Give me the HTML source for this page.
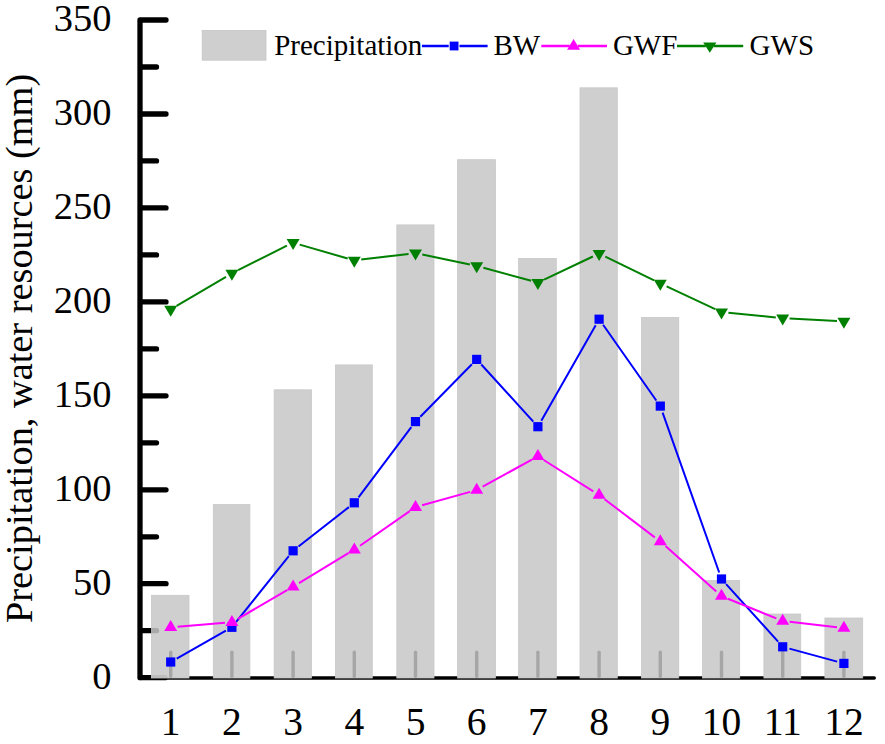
<!DOCTYPE html>
<html><head><meta charset="utf-8"><title>chart</title>
<style>html,body{margin:0;padding:0;background:#fff;}svg{display:block;}text{font-family:"Liberation Serif",serif;fill:#000;}</style></head><body>
<svg width="885" height="744" viewBox="0 0 885 744">
<rect width="885" height="744" fill="#fff"/>
<g stroke="#000" stroke-linecap="round" fill="none">
<line x1="140" y1="20" x2="140" y2="677.7" stroke-width="5.3"/>
<line x1="140" y1="678" x2="874.2" y2="678" stroke-width="3.6"/>
<line x1="142" y1="677.7" x2="165" y2="677.7" stroke-width="5.3"/>
<line x1="142" y1="630.7" x2="156.5" y2="630.7" stroke-width="5.3"/>
<line x1="142" y1="583.7" x2="166" y2="583.7" stroke-width="5.3"/>
<line x1="142" y1="536.8" x2="156.5" y2="536.8" stroke-width="5.3"/>
<line x1="142" y1="489.8" x2="166" y2="489.8" stroke-width="5.3"/>
<line x1="142" y1="442.8" x2="156.5" y2="442.8" stroke-width="5.3"/>
<line x1="142" y1="395.8" x2="166" y2="395.8" stroke-width="5.3"/>
<line x1="142" y1="348.9" x2="156.5" y2="348.9" stroke-width="5.3"/>
<line x1="142" y1="301.9" x2="166" y2="301.9" stroke-width="5.3"/>
<line x1="142" y1="254.9" x2="156.5" y2="254.9" stroke-width="5.3"/>
<line x1="142" y1="207.9" x2="166" y2="207.9" stroke-width="5.3"/>
<line x1="142" y1="160.9" x2="156.5" y2="160.9" stroke-width="5.3"/>
<line x1="142" y1="114.0" x2="166" y2="114.0" stroke-width="5.3"/>
<line x1="142" y1="67.0" x2="156.5" y2="67.0" stroke-width="5.3"/>
<line x1="142" y1="20.0" x2="166" y2="20.0" stroke-width="5.3"/>
</g>
<g fill="#cfcfcf" stroke="#c8c8c8" stroke-width="0.8">
<rect x="151.50" y="595.3" width="37.50" height="82.7"/>
<rect x="213.30" y="504.5" width="36.60" height="173.5"/>
<rect x="274.15" y="389.8" width="37.35" height="288.2"/>
<rect x="335.40" y="364.9" width="36.90" height="313.1"/>
<rect x="396.80" y="224.9" width="37.20" height="453.1"/>
<rect x="457.60" y="159.7" width="37.85" height="518.3"/>
<rect x="518.60" y="258.4" width="37.70" height="419.6"/>
<rect x="580.00" y="87.8" width="37.30" height="590.2"/>
<rect x="641.40" y="317.5" width="37.35" height="360.5"/>
<rect x="702.50" y="580.5" width="37.20" height="97.5"/>
<rect x="763.90" y="614.0" width="36.85" height="64.0"/>
<rect x="824.90" y="618.0" width="37.80" height="60.0"/>
</g>
<g stroke="#a6a6a6" stroke-linecap="round" fill="none">
<line x1="170.7" y1="676.3" x2="170.7" y2="652.3" stroke-width="3.4"/>
<line x1="231.9" y1="676.3" x2="231.9" y2="652.3" stroke-width="3.4"/>
<line x1="293.1" y1="676.3" x2="293.1" y2="652.3" stroke-width="3.4"/>
<line x1="354.3" y1="676.3" x2="354.3" y2="652.3" stroke-width="3.4"/>
<line x1="415.5" y1="676.3" x2="415.5" y2="652.3" stroke-width="3.4"/>
<line x1="476.7" y1="676.3" x2="476.7" y2="652.3" stroke-width="3.4"/>
<line x1="537.9" y1="676.3" x2="537.9" y2="652.3" stroke-width="3.4"/>
<line x1="599.1" y1="676.3" x2="599.1" y2="652.3" stroke-width="3.4"/>
<line x1="660.3" y1="676.3" x2="660.3" y2="652.3" stroke-width="3.4"/>
<line x1="721.5" y1="676.3" x2="721.5" y2="652.3" stroke-width="3.4"/>
<line x1="782.7" y1="676.3" x2="782.7" y2="652.3" stroke-width="3.4"/>
<line x1="843.9" y1="676.3" x2="843.9" y2="652.3" stroke-width="3.4"/>
</g>
<clipPath id="b1"><rect x="151.2" y="590" width="38" height="88"/></clipPath>
<g clip-path="url(#b1)" stroke="#a9a9a9" stroke-linecap="round" fill="none">
<line x1="140" y1="630.7" x2="156.5" y2="630.7" stroke-width="5.3"/>
<line x1="140" y1="677.7" x2="165" y2="677.7" stroke-width="5.3" stroke="#bdbdbd"/>
</g>
<path d="M176.7 658.6L225.9 630.7M236.2 621.9L288.8 556.2M298.5 546.5L348.9 507.1M358.5 497.3L411.3 427.1M420.3 416.7L471.9 364.3M481.3 364.5L533.3 421.6M541.3 420.7L595.7 325.2M603.1 324.8L656.3 400.5M662.6 412.6L719.2 572.5M726.1 584.1L778.1 641.7M789.4 648.6L837.2 661.6" stroke="#0000ff" stroke-width="2" fill="none"/>
<rect x="166.1" y="657.4" width="9.2" height="9.2" fill="#0000ff"/>
<rect x="227.3" y="622.7" width="9.2" height="9.2" fill="#0000ff"/>
<rect x="288.5" y="546.2" width="9.2" height="9.2" fill="#0000ff"/>
<rect x="349.7" y="498.2" width="9.2" height="9.2" fill="#0000ff"/>
<rect x="410.9" y="417.0" width="9.2" height="9.2" fill="#0000ff"/>
<rect x="472.1" y="354.8" width="9.2" height="9.2" fill="#0000ff"/>
<rect x="533.3" y="422.1" width="9.2" height="9.2" fill="#0000ff"/>
<rect x="594.5" y="314.6" width="9.2" height="9.2" fill="#0000ff"/>
<rect x="655.7" y="401.5" width="9.2" height="9.2" fill="#0000ff"/>
<rect x="716.9" y="574.4" width="9.2" height="9.2" fill="#0000ff"/>
<rect x="778.1" y="642.2" width="9.2" height="9.2" fill="#0000ff"/>
<rect x="839.3" y="658.8" width="9.2" height="9.2" fill="#0000ff"/>
<path d="M177.6 626.7L225.0 622.8M237.9 618.8L287.1 590.2M299.0 583.2L348.4 553.2M360.0 545.7L409.8 511.1M422.1 505.3L470.1 491.9M482.7 486.7L531.9 459.6M543.7 460.0L593.3 491.4M604.6 499.2L654.8 537.4M665.5 546.1L716.3 591.5M727.9 598.7L776.3 618.4M789.6 621.8L837.0 627.3" stroke="#ff00ff" stroke-width="2" fill="none"/>
<path d="M170.7 620.0L177.2 631.0L164.2 631.0Z" fill="#ff00ff"/>
<path d="M231.9 615.0L238.4 626.0L225.4 626.0Z" fill="#ff00ff"/>
<path d="M293.1 579.5L299.6 590.5L286.6 590.5Z" fill="#ff00ff"/>
<path d="M354.3 542.4L360.8 553.4L347.8 553.4Z" fill="#ff00ff"/>
<path d="M415.5 499.9L422.0 510.9L409.0 510.9Z" fill="#ff00ff"/>
<path d="M476.7 482.8L483.2 493.8L470.2 493.8Z" fill="#ff00ff"/>
<path d="M537.9 449.0L544.4 460.0L531.4 460.0Z" fill="#ff00ff"/>
<path d="M599.1 487.8L605.6 498.8L592.6 498.8Z" fill="#ff00ff"/>
<path d="M660.3 534.3L666.8 545.3L653.8 545.3Z" fill="#ff00ff"/>
<path d="M721.5 588.8L728.0 599.8L715.0 599.8Z" fill="#ff00ff"/>
<path d="M782.7 613.7L789.2 624.7L776.2 624.7Z" fill="#ff00ff"/>
<path d="M843.9 620.8L850.4 631.8L837.4 631.8Z" fill="#ff00ff"/>
<path d="M176.6 305.8L226.0 276.8M238.1 270.2L286.9 245.7M299.7 244.6L347.7 258.5M361.2 259.6L408.6 253.9M422.3 254.5L469.9 264.5M483.4 267.7L531.2 280.8M544.1 279.7L592.9 256.5M605.3 256.6L654.1 280.4M666.6 286.4L715.2 309.1M728.4 312.7L775.8 317.5M789.6 318.6L837.0 321.1" stroke="#008000" stroke-width="2" fill="none"/>
<path d="M170.7 316.7L177.2 305.7L164.2 305.7Z" fill="#008000"/>
<path d="M231.9 280.7L238.4 269.7L225.4 269.7Z" fill="#008000"/>
<path d="M293.1 250.0L299.6 239.0L286.6 239.0Z" fill="#008000"/>
<path d="M354.3 267.8L360.8 256.8L347.8 256.8Z" fill="#008000"/>
<path d="M415.5 260.4L422.0 249.4L409.0 249.4Z" fill="#008000"/>
<path d="M476.7 273.3L483.2 262.3L470.2 262.3Z" fill="#008000"/>
<path d="M537.9 290.0L544.4 279.0L531.4 279.0Z" fill="#008000"/>
<path d="M599.1 260.9L605.6 249.9L592.6 249.9Z" fill="#008000"/>
<path d="M660.3 290.8L666.8 279.8L653.8 279.8Z" fill="#008000"/>
<path d="M721.5 319.4L728.0 308.4L715.0 308.4Z" fill="#008000"/>
<path d="M782.7 325.6L789.2 314.6L776.2 314.6Z" fill="#008000"/>
<path d="M843.9 328.8L850.4 317.8L837.4 317.8Z" fill="#008000"/>
<text x="111.4" y="689.1" font-size="38.5" text-anchor="end">0</text>
<text x="111.4" y="595.1" font-size="38.5" text-anchor="end">50</text>
<text x="111.4" y="501.2" font-size="38.5" text-anchor="end">100</text>
<text x="111.4" y="407.2" font-size="38.5" text-anchor="end">150</text>
<text x="111.4" y="313.3" font-size="38.5" text-anchor="end">200</text>
<text x="111.4" y="219.3" font-size="38.5" text-anchor="end">250</text>
<text x="111.4" y="125.4" font-size="38.5" text-anchor="end">300</text>
<text x="111.4" y="31.4" font-size="38.5" text-anchor="end">350</text>
<text x="170.7" y="735" font-size="39.5" text-anchor="middle">1</text>
<text x="231.9" y="735" font-size="39.5" text-anchor="middle">2</text>
<text x="293.1" y="735" font-size="39.5" text-anchor="middle">3</text>
<text x="354.3" y="735" font-size="39.5" text-anchor="middle">4</text>
<text x="415.5" y="735" font-size="39.5" text-anchor="middle">5</text>
<text x="476.7" y="735" font-size="39.5" text-anchor="middle">6</text>
<text x="537.9" y="735" font-size="39.5" text-anchor="middle">7</text>
<text x="599.1" y="735" font-size="39.5" text-anchor="middle">8</text>
<text x="660.3" y="735" font-size="39.5" text-anchor="middle">9</text>
<text x="721.5" y="735" font-size="39.5" text-anchor="middle">10</text>
<text x="782.7" y="735" font-size="39.5" text-anchor="middle">11</text>
<text x="843.9" y="735" font-size="39.5" text-anchor="middle">12</text>
<text transform="translate(32,623) rotate(-90)" font-size="38.35" id="ytitle">Precipitation, water resources (mm)</text>
<rect x="202.2" y="30.4" width="63.8" height="29.8" fill="#cfcfcf" stroke="#c6c6c6" stroke-width="0.8"/>
<text x="274.2" y="55.4" font-size="29" id="lg1">Precipitation</text>
<path d="M421.9 46.0L448.70000000000005 46.0M459.5 46.0L487.6 46.0" stroke="#0000ff" stroke-width="2.3" fill="none"/>
<rect x="449.7" y="41.6" width="8.8" height="8.8" fill="#0000ff"/>
<text x="493.4" y="55.4" font-size="29" id="lg2">BW</text>
<path d="M541.3 46.0L569.8 46.0M577.8 46.0L607 46.0" stroke="#ff00ff" stroke-width="2.3" fill="none"/>
<path d="M573.6 38.9L580.1 49.7L567.1 49.7Z" fill="#ff00ff"/>
<text x="612.9" y="55.4" font-size="29" id="lg3">GWF</text>
<path d="M677.0 46.0L705.8 46.0M713.8 46.0L743.2 46.0" stroke="#008000" stroke-width="2.3" fill="none"/>
<path d="M709.8 52.8L716.4 42.4L703.2 42.4Z" fill="#008000"/>
<text x="749.6" y="55.4" font-size="29" id="lg4">GWS</text>
</svg></body></html>
